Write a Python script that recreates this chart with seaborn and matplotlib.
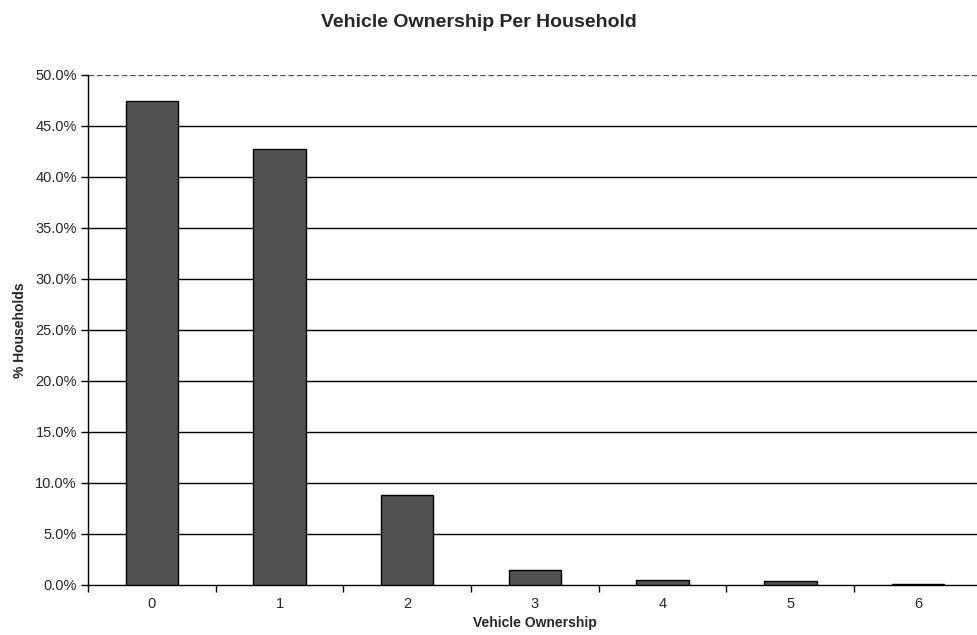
"""Vehicle ownership per household bar chart."""
import matplotlib
matplotlib.use("Agg")
import matplotlib.pyplot as plt
import numpy as np
import pandas as pd
import seaborn as sns
from matplotlib.ticker import FuncFormatter, FixedLocator

vehicles = ["0", "1", "2", "3", "4", "5", "6"]
pct_households = [47.4, 42.7, 8.8, 1.5, 0.5, 0.4, 0.1]
y_ticks = np.arange(0, 50.1, 5)

sns.set_style("white")
plt.rcParams["font.family"] = ["Liberation Sans", "DejaVu Sans"]

df = pd.DataFrame({"vehicles": vehicles, "pct": pct_households})

fig = plt.figure(figsize=(9.77, 6.35), dpi=100)
# plot area runs a little past the right edge, as in the scanned original
ax = fig.add_axes([0.090, 0.079, 0.915, 0.803])

sns.barplot(data=df, x="vehicles", y="pct", color="#525252", saturation=1,
            width=0.41, edgecolor="black", linewidth=1.0, ax=ax, zorder=3)

ax.set_ylim(0, 50)
ax.set_xlim(-0.5, len(vehicles) - 0.5)
ax.set_yticks(y_ticks)
ax.yaxis.set_major_formatter(FuncFormatter(lambda v, _: f"{v:.1f}%"))
for v in y_ticks[1:-1]:
    ax.axhline(v, color="black", linewidth=1.0, zorder=1)
ax.axhline(y_ticks[-1], color="#555555", linewidth=1.0, linestyle=(0, (4, 2)),
           zorder=1)

ax.xaxis.set_minor_locator(FixedLocator(np.arange(-0.5, len(vehicles), 1)))
ax.tick_params(axis="x", which="major", length=0, pad=9, labelsize=10.5)
ax.tick_params(axis="x", which="minor", length=5, width=1.0, color="black",
               direction="out", bottom=True)
ax.tick_params(axis="y", length=5, width=1.0, color="black", direction="out",
               left=True, labelsize=10.5, pad=3)

for side in ["top", "right"]:
    ax.spines[side].set_visible(False)
for side in ["left", "bottom"]:
    ax.spines[side].set_color("black")
    ax.spines[side].set_linewidth(1.0)

ax.set_xlabel("Vehicle Ownership", fontsize=10, fontweight="bold", labelpad=3)
ax.set_ylabel("% Households", fontsize=10, fontweight="bold")
ax.yaxis.set_label_coords(-0.068, 0.5)
fig.text(0.49, 1 - 27 / 635, "Vehicle Ownership Per Household", fontsize=14,
         fontweight="bold", ha="center", va="baseline")

fig.savefig("out.png", dpi=100)
plt.close(fig)
